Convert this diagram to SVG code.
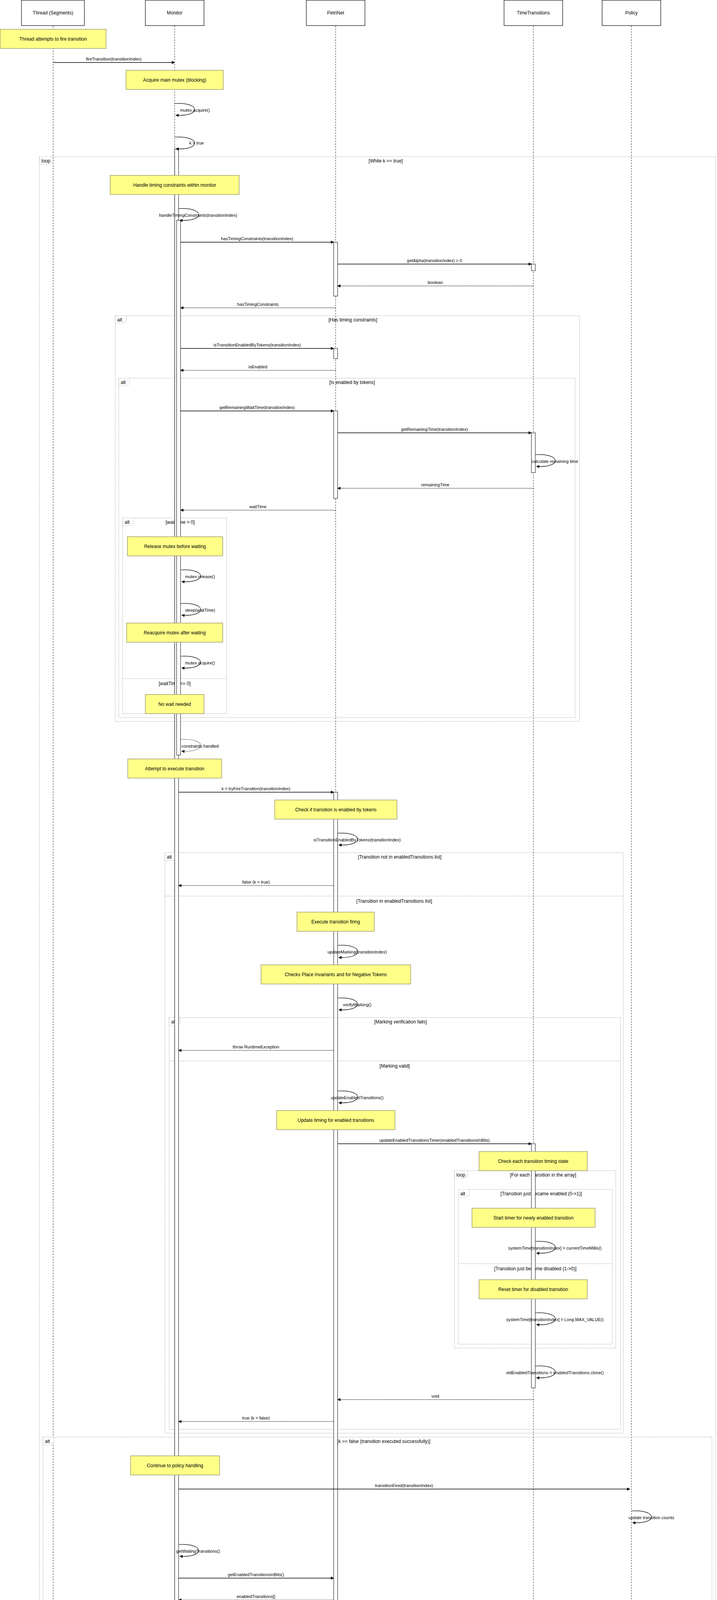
<svg xmlns="http://www.w3.org/2000/svg" width="1835" height="5964" viewBox="0 0 1835 5964">
<style>
text{font-family:"Liberation Sans",Arial,sans-serif;fill:#000}
.actor rect{fill:#fff;stroke:#000;stroke-width:1.2}
.actor text{font-size:12px;text-anchor:middle;dominant-baseline:central}
.life{stroke:#000;stroke-width:0.9;stroke-dasharray:4,3}
.frame{fill:none;stroke:#b4b4b4;stroke-width:1.5;stroke-dasharray:2,2}
.tab{fill:#fff;stroke:#b4b4b4;stroke-width:1.2;stroke-dasharray:2,2}
.ftag{font-size:12px;dominant-baseline:central}
.fcond{font-size:12px;text-anchor:middle;dominant-baseline:central}
.act{fill:#fff;stroke:#000;stroke-width:1}
.msg{stroke:#000;stroke-width:1.5;fill:none;marker-end:url(#ah)}
.ret{stroke:#000;stroke-width:1.5;fill:none;stroke-dasharray:2,2;marker-end:url(#ah)}
.self{stroke:#000;stroke-width:1.2;fill:none;marker-end:url(#ah)}
.selfd{stroke:#000;stroke-width:1.2;fill:none;stroke-dasharray:2,2;marker-end:url(#ah)}
.ml{font-size:11px;text-anchor:middle;dominant-baseline:central}
.note rect{fill:#ffff88;stroke:#a39f74;stroke-width:1.5}
.note text{font-size:12px;text-anchor:middle;dominant-baseline:central}
</style>
<defs>
<marker id="ah" viewBox="0 0 10 10" refX="9" refY="5" markerWidth="9" markerHeight="8" markerUnits="userSpaceOnUse" orient="auto">
<path d="M0,0 L10,5 L0,10 z" fill="#000"/>
</marker>
</defs>
<rect x="0" y="0" width="1835" height="5964" fill="#fff"/>

<g id="lifelines">
<line class="life" x1="136" y1="66" x2="136" y2="5964"/>
<line class="life" x1="447" y1="66" x2="447" y2="5964"/>
<line class="life" x1="859" y1="66" x2="859" y2="5964"/>
<line class="life" x1="1365" y1="66" x2="1365" y2="5964"/>
<line class="life" x1="1616" y1="66" x2="1616" y2="5964"/>
</g>

<g id="actors">
<g id="actor-thread" class="actor"><rect x="55" y="0.5" width="161" height="65"/><text x="135.5" y="33">Thread (Segments)</text></g>
<g id="actor-monitor" class="actor"><rect x="372" y="0.5" width="150" height="65"/><text x="447" y="33">Monitor</text></g>
<g id="actor-petrinet" class="actor"><rect x="784" y="0.5" width="150" height="65"/><text x="859" y="33">PetriNet</text></g>
<g id="actor-timetransitions" class="actor"><rect x="1290" y="0.5" width="150" height="65"/><text x="1365" y="33">TimeTransitions</text></g>
<g id="actor-policy" class="actor"><rect x="1541" y="0.5" width="150" height="65"/><text x="1616" y="33">Policy</text></g>
</g>

<g id="frames">
<g id="f-loop-main"><rect class="frame" x="101" y="401" width="1730" height="5467"/><polygon class="tab" points="101,401 135,401 135,414 128,421 101,421"/><text class="ftag" x="106" y="412">loop</text><text class="fcond" x="987" y="412">[While k == true]</text></g>
<g id="f-alt-timing"><rect class="frame" x="295" y="808" width="1188" height="1039"/><polygon class="tab" points="295,808 323,808 323,821 316,828 295,828"/><text class="ftag" x="300" y="819">alt</text><text class="fcond" x="903" y="819">[Has timing constraints]</text></g>
<g id="f-alt-tokens"><rect class="frame" x="304" y="968" width="1168" height="869"/><polygon class="tab" points="304,968 332,968 332,981 325,988 304,988"/><text class="ftag" x="309" y="979">alt</text><text class="fcond" x="901" y="979">[Is enabled by tokens]</text></g>
<g id="f-alt-wait"><rect class="frame" x="314" y="1326" width="266" height="501"/><polygon class="tab" points="314,1326 342,1326 342,1339 335,1346 314,1346"/><text class="ftag" x="319" y="1337">alt</text><text class="fcond" x="461" y="1337">[waitTime &gt; 0]</text><line class="frame" x1="314" y1="1737" x2="580" y2="1737"/><text class="fcond" x="447" y="1750">[waitTime &lt;= 0]</text></g>
<g id="f-alt-fire"><rect class="frame" x="422" y="2183" width="1173" height="1486"/><polygon class="tab" points="422,2183 450,2183 450,2196 443,2203 422,2203"/><text class="ftag" x="427" y="2194">alt</text><text class="fcond" x="1023" y="2194">[Transition not in enabledTransitions list]</text><line class="frame" x1="422" y1="2294" x2="1595" y2="2294"/><text class="fcond" x="1009" y="2307">[Transition in enabledTransitions list]</text></g>
<g id="f-alt-marking"><rect class="frame" x="433" y="2605" width="1155" height="1054"/><polygon class="tab" points="433,2605 461,2605 461,2618 454,2625 433,2625"/><text class="ftag" x="438" y="2616">alt</text><text class="fcond" x="1025" y="2616">[Marking verification fails]</text><line class="frame" x1="433" y1="2716" x2="1588" y2="2716"/><text class="fcond" x="1010" y="2729">[Marking valid]</text></g>
<g id="f-loop-each"><rect class="frame" x="1163" y="2997" width="413" height="454"/><polygon class="tab" points="1163,2997 1197,2997 1197,3010 1190,3017 1163,3017"/><text class="ftag" x="1168" y="3008">loop</text><text class="fcond" x="1390" y="3008">[For each transition in the array]</text></g>
<g id="f-alt-enable"><rect class="frame" x="1173" y="3045" width="394" height="396"/><polygon class="tab" points="1173,3045 1201,3045 1201,3058 1194,3065 1173,3065"/><text class="ftag" x="1178" y="3056">alt</text><text class="fcond" x="1385" y="3056">[Transition just became enabled (0-&gt;1)]</text><line class="frame" x1="1173" y1="3235" x2="1567" y2="3235"/><text class="fcond" x="1370" y="3248">[Transition just became disabled (1-&gt;0)]</text></g>
<g id="f-alt-k"><rect class="frame" x="110" y="3679" width="1712" height="2179"/><polygon class="tab" points="110,3679 138,3679 138,3692 131,3699 110,3699"/><text class="ftag" x="115" y="3690">alt</text><text class="fcond" x="982" y="3690">[k == false (transition executed successfully)]</text><line class="frame" x1="110" y1="5498" x2="1822" y2="5498"/><text class="fcond" x="967" y="5512">[k == true (transition could not be executed)]</text></g>
<g id="f-alt-waiting"><rect class="frame" x="119" y="4251" width="1694" height="1230"/><polygon class="tab" points="119,4251 147,4251 147,4264 140,4271 119,4271"/><text class="ftag" x="124" y="4262">alt</text><text class="fcond" x="981" y="4262">[No waiting enabled transitions]</text><line class="frame" x1="119" y1="4448" x2="1813" y2="4448"/><text class="fcond" x="966" y="4461">[Has waiting enabled transitions]</text></g>
<g id="f-alt-tracked"><rect class="frame" x="422" y="4680" width="1353" height="542"/><polygon class="tab" points="422,4680 450,4680 450,4693 443,4700 422,4700"/><text class="ftag" x="427" y="4691">alt</text><text class="fcond" x="1114" y="4692">[Selected transition is tracked by policy]</text><line class="frame" x1="422" y1="5125" x2="1775" y2="5125"/><text class="fcond" x="1098" y="5138">[Selected transition not tracked]</text></g>
<g id="f-alt-allows"><rect class="frame" x="433" y="4900" width="1197" height="208"/><polygon class="tab" points="433,4900 461,4900 461,4913 454,4920 433,4920"/><text class="ftag" x="438" y="4911">alt</text><text class="fcond" x="1046" y="4911">[Policy allows random transition]</text><line class="frame" x1="433" y1="5011" x2="1630" y2="5011"/><text class="fcond" x="1032" y="5024">[Policy prefers paired transition]</text></g>
<g id="f-alt-valid"><rect class="frame" x="290" y="5232" width="335" height="183"/><polygon class="tab" points="290,5232 318,5232 318,5245 311,5252 290,5252"/><text class="ftag" x="295" y="5243">alt</text><text class="fcond" x="472" y="5243">[Valid next transition returned]</text></g>
</g>

<g id="activations">
<rect class="act" x="447" y="381" width="10" height="5419"/>
<rect class="act" x="452" y="564" width="10" height="1369"/>
<rect class="act" x="854" y="620" width="10" height="138"/>
<rect class="act" x="854" y="892" width="10" height="26"/>
<rect class="act" x="854" y="1052" width="10" height="224"/>
<rect class="act" x="854" y="2028" width="10" height="3790"/>
<rect class="act" x="1360" y="676" width="10" height="17"/>
<rect class="act" x="1360" y="1108" width="10" height="102"/>
<rect class="act" x="1360" y="2928" width="10" height="625"/>
<rect class="act" x="1612" y="4421" width="10" height="751"/>
</g>

<g id="connectors">
<line class="msg" x1="136" y1="160" x2="447" y2="160"/><text class="ml" x="291" y="151">fireTransition(transitionIndex)</text>
<path class="self" d="M447,265 C515,261 515,299 450,295"/><text class="ml" x="499" y="282">mutex.acquire()</text>
<path class="self" d="M447,351 C515,347 515,385 450,381"/><text class="ml" x="503" y="366">k = true</text>
<path class="self" d="M457,534 C525,530 525,568 460,564"/><text class="ml" x="507" y="551">handleTimingConstraints(transitionIndex)</text>
<line class="msg" x1="462" y1="620" x2="854" y2="620"/><text class="ml" x="658" y="611">hasTimingConstraints(transitionIndex)</text>
<line class="msg" x1="864" y1="676" x2="1360" y2="676"/><text class="ml" x="1112" y="667">getAlpha(transitionIndex) &gt; 0</text>
<line class="ret" x1="1365" y1="732" x2="864" y2="732"/><text class="ml" x="1114" y="723">boolean</text>
<line class="ret" x1="859" y1="788" x2="462" y2="788"/><text class="ml" x="660" y="779">hasTimingConstraints</text>
<line class="msg" x1="462" y1="892" x2="854" y2="892"/><text class="ml" x="658" y="883">isTransitionEnabledByTokens(transitionIndex)</text>
<line class="ret" x1="859" y1="948" x2="462" y2="948"/><text class="ml" x="660" y="939">isEnabled</text>
<line class="msg" x1="462" y1="1052" x2="854" y2="1052"/><text class="ml" x="658" y="1043">getRemainingWaitTime(transitionIndex)</text>
<line class="msg" x1="864" y1="1108" x2="1360" y2="1108"/><text class="ml" x="1112" y="1099">getRemainingTime(transitionIndex)</text>
<path class="self" d="M1370,1164 C1438,1160 1438,1198 1373,1194"/><text class="ml" x="1420" y="1181">calculate remaining time</text>
<line class="ret" x1="1365" y1="1250" x2="864" y2="1250"/><text class="ml" x="1114" y="1241">remainingTime</text>
<line class="ret" x1="859" y1="1306" x2="462" y2="1306"/><text class="ml" x="660" y="1297">waitTime</text>
<path class="self" d="M462,1459 C530,1455 530,1493 465,1489"/><text class="ml" x="512" y="1476">mutex.release()</text>
<path class="self" d="M462,1545 C530,1541 530,1579 465,1575"/><text class="ml" x="512" y="1562">sleep(waitTime)</text>
<path class="self" d="M462,1680 C530,1676 530,1714 465,1710"/><text class="ml" x="512" y="1697">mutex.acquire()</text>
<path class="selfd" d="M462,1893 C530,1889 530,1927 465,1923"/><text class="ml" x="512" y="1910">constraints handled</text>
<line class="msg" x1="457" y1="2028" x2="854" y2="2028"/><text class="ml" x="655" y="2019">k = tryFireTransition(transitionIndex)</text>
<path class="self" d="M864,2133 C932,2129 932,2167 867,2163"/><text class="ml" x="914" y="2150">isTransitionEnabledByTokens(transitionIndex)</text>
<line class="ret" x1="854" y1="2267" x2="457" y2="2267"/><text class="ml" x="655" y="2258">false (k = true)</text>
<path class="self" d="M864,2420 C932,2416 932,2455 867,2451"/><text class="ml" x="914" y="2437">updateMarking(transitionIndex)</text>
<path class="self" d="M864,2555 C932,2551 932,2589 867,2585"/><text class="ml" x="914" y="2572">verifyMarking()</text>
<line class="ret" x1="854" y1="2689" x2="457" y2="2689"/><text class="ml" x="655" y="2680">throw RuntimeException</text>
<path class="self" d="M864,2793 C932,2789 932,2827 867,2823"/><text class="ml" x="914" y="2810">updateEnabledTransitions()</text>
<line class="msg" x1="864" y1="2928" x2="1360" y2="2928"/><text class="ml" x="1112" y="2919">updateEnabledTransitionsTimer(enabledTransitionsInBits)</text>
<path class="self" d="M1370,3178 C1438,3174 1438,3212 1373,3208"/><text class="ml" x="1420" y="3195">systemTime[transitionIndex] = currentTimeMillis()</text>
<path class="self" d="M1370,3361 C1438,3357 1438,3395 1373,3391"/><text class="ml" x="1420" y="3378">systemTime[transitionIndex] = Long.MAX_VALUE()</text>
<path class="self" d="M1370,3497 C1438,3493 1438,3531 1373,3527"/><text class="ml" x="1420" y="3514">oldEnabledTransitions = enabledTransitions.clone()</text>
<line class="ret" x1="1365" y1="3583" x2="864" y2="3583"/><text class="ml" x="1114" y="3574">void</text>
<line class="ret" x1="854" y1="3639" x2="457" y2="3639"/><text class="ml" x="655" y="3630">true (k = false)</text>
<line class="msg" x1="457" y1="3812" x2="1612" y2="3812"/><text class="ml" x="1034" y="3803">transitionFired(transitionIndex)</text>
<path class="self" d="M1616,3868 C1684,3864 1684,3902 1619,3898"/><text class="ml" x="1667" y="3885">update transition counts</text>
<path class="self" d="M457,3954 C525,3950 525,3988 460,3984"/><text class="ml" x="507" y="3971">getWaitingTransitions()</text>
<line class="msg" x1="457" y1="4040" x2="854" y2="4040"/><text class="ml" x="655" y="4031">getEnabledTransitionsInBits()</text>
<line class="ret" x1="854" y1="4096" x2="457" y2="4096"/><text class="ml" x="655" y="4087">enabledTransitions[]</text>
<path class="self" d="M457,4152 C525,4148 525,4186 460,4182"/><text class="ml" x="507" y="4169">bitwiseAnd(enabled, waiting)</text>
<path class="self" d="M457,4335 C525,4331 525,4369 460,4365"/><text class="ml" x="507" y="4352">mutex.release()</text>
<line class="ret" x1="447" y1="4421" x2="136" y2="4421"/><text class="ml" x="291" y="4412">true</text>
<line class="msg" x1="457" y1="4525" x2="1612" y2="4525"/><text class="ml" x="1034" y="4516">getNextTransition(transitionsForPolicyToChooseFrom)</text>
<path class="self" d="M1622,4581 C1690,4577 1690,4615 1625,4611"/><text class="ml" x="1671" y="4598">getRandomEnabledIndex(transitionsArray)</text>
<path class="self" d="M1622,4764 C1690,4760 1690,4798 1625,4794"/><text class="ml" x="1671" y="4781">getPairedTransition(randomTransition)</text>
<path class="self" d="M1622,4850 C1690,4846 1690,4884 1625,4880"/><text class="ml" x="1671" y="4867">canFireTransition(randomTransition)</text>
<line class="ret" x1="1612" y1="4984" x2="457" y2="4984"/><text class="ml" x="1034" y="4975">randomTransition</text>
<line class="ret" x1="1612" y1="5088" x2="457" y2="5088"/><text class="ml" x="1034" y="5079">pairedTransition</text>
<line class="ret" x1="1616" y1="5202" x2="457" y2="5202"/><text class="ml" x="1036" y="5193">randomTransition</text>
<path class="self" d="M457,5316 C525,5312 525,5350 460,5346"/><text class="ml" x="507" y="5333">transitionsQueue[nextTransition].release()</text>
<line class="ret" x1="447" y1="5461" x2="136" y2="5461"/><text class="ml" x="291" y="5452">true</text>
<path class="self" d="M457,5624 C525,5620 525,5658 460,5654"/><text class="ml" x="507" y="5641">mutex.release()</text>
<path class="self" d="M457,5710 C525,5706 525,5744 460,5740"/><text class="ml" x="507" y="5727">transitionsQueue[transitionIndex].acquire()</text>
</g>

<g id="notes">
<g id="n1" class="note"><rect x="0.5" y="75" width="271" height="49"/><text x="136" y="99.5">Thread attempts to fire transition</text></g>
<g id="n2" class="note"><rect x="322.5" y="180" width="249" height="49"/><text x="447" y="204.5">Acquire main mutex (blocking)</text></g>
<g id="n3" class="note"><rect x="282" y="449" width="330" height="49"/><text x="447" y="473.5">Handle timing constraints within monitor</text></g>
<g id="n4" class="note"><rect x="326" y="1374" width="244" height="49"/><text x="448" y="1398.5">Release mutex before waiting</text></g>
<g id="n5" class="note"><rect x="324" y="1595" width="246" height="49"/><text x="447" y="1619.5">Reacquire mutex after waiting</text></g>
<g id="n6" class="note"><rect x="372" y="1778" width="150" height="49"/><text x="447" y="1802.5">No wait needed</text></g>
<g id="n7" class="note"><rect x="327" y="1943" width="240" height="49"/><text x="447" y="1967.5">Attempt to execute transition</text></g>
<g id="n8" class="note"><rect x="703" y="2048" width="313" height="49"/><text x="859.5" y="2072.5">Check if transition is enabled by tokens</text></g>
<g id="n9" class="note"><rect x="760" y="2335" width="198" height="49"/><text x="859" y="2359.5">Execute transition firing</text></g>
<g id="n10" class="note"><rect x="668" y="2470" width="383" height="49"/><text x="859.5" y="2494.5">Checks Place Invariants and for Negative Tokens</text></g>
<g id="n11" class="note"><rect x="708" y="2843" width="303" height="49"/><text x="859.5" y="2867.5">Update timing for enabled transitions</text></g>
<g id="n12" class="note"><rect x="1226" y="2948" width="277" height="49"/><text x="1364.5" y="2972.5">Check each transition timing state</text></g>
<g id="n13" class="note"><rect x="1208" y="3093" width="315" height="49"/><text x="1365.5" y="3117.5">Start timer for newly enabled transition</text></g>
<g id="n14" class="note"><rect x="1226" y="3276" width="277" height="49"/><text x="1364.5" y="3300.5">Reset timer for disabled transition</text></g>
<g id="n15" class="note"><rect x="334" y="3727" width="228" height="49"/><text x="448" y="3751.5">Continue to policy handling</text></g>
<g id="n16" class="note"><rect x="243" y="4202" width="407" height="49"/><text x="446.5" y="4226.5">Find intersection of enabled and waiting transitions</text></g>
<g id="n17" class="note"><rect x="1427" y="4631" width="378" height="49"/><text x="1616" y="4655.5">Select random transition from available options</text></g>
<g id="n18" class="note"><rect x="318" y="5366" width="258" height="49"/><text x="447" y="5390.5">Wake up specific waiting thread</text></g>
<g id="n19" class="note"><rect x="315" y="5539" width="264" height="49"/><text x="447" y="5563.5">Transition could not be executed</text></g>
<g id="n20" class="note"><rect x="286" y="5760" width="323" height="49"/><text x="447.5" y="5784.5">Thread waits in transition-specific queue</text></g>
<g id="n21" class="note"><rect x="185" y="5809" width="524" height="49"/><text x="447" y="5833.5">Once the thread has been awaken, continue at the start of the loop</text></g>
</g>
</svg>
